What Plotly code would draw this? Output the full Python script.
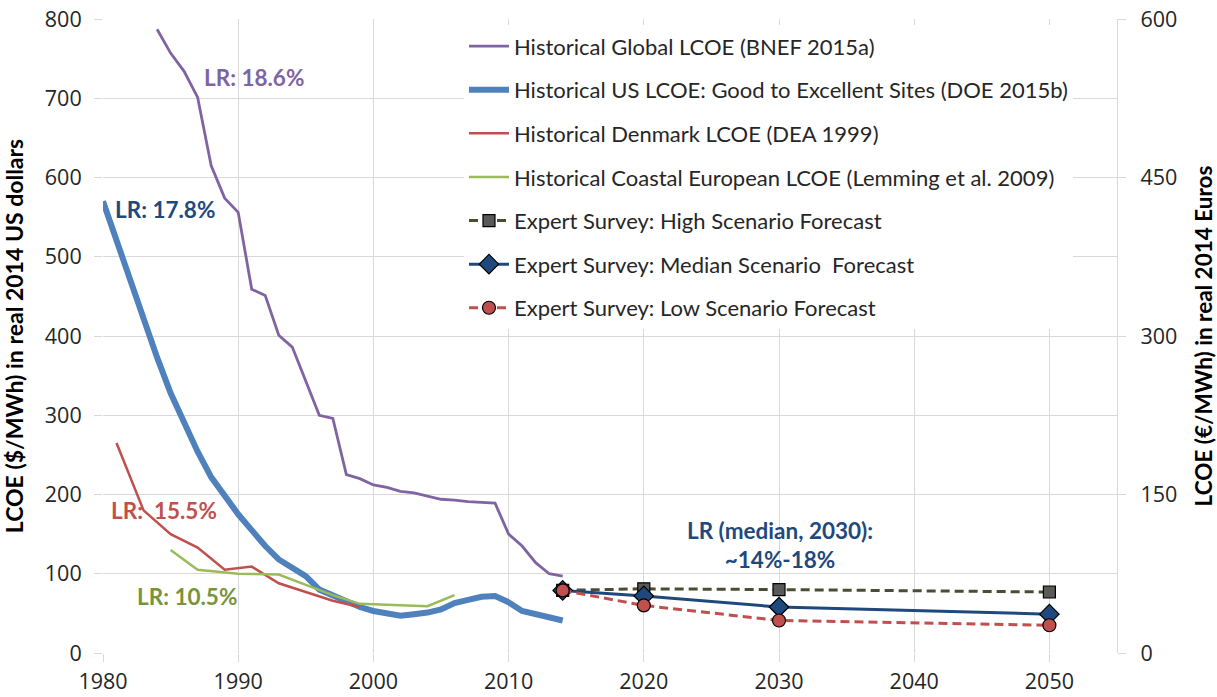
import plotly.graph_objects as go

# ---------------- data ----------------
global_years = list(range(1984, 2015))
global_lcoe = [787, 757, 734, 701, 615, 574, 556, 459, 451, 401, 386, 343, 300, 296, 225,
               220, 212, 209, 204, 202, 198, 194, 193, 191, 190, 189, 150, 135, 114, 100, 97]

us_years = list(range(1980, 2015))
us_lcoe = [570, 520, 470, 420, 373, 328, 290, 254, 222, 197, 175, 155, 135, 118, 107, 97, 80,
           72, 65, 58, 53, 50, 47, 49, 51, 55, 63, 67, 71, 72, 64, 53, 49, 45, 41]

dk_years = [1981, 1983, 1985, 1987, 1989, 1991, 1993, 1995, 1997, 1999]
dk_lcoe = [265, 180, 150, 133, 105, 109, 88, 77, 66, 58]

eu_years = [1985, 1987, 1990, 1993, 1995, 1997, 1999, 2004, 2006]
eu_lcoe = [130, 105, 100, 99, 86, 73, 62, 59, 73]

fc_years = [2014, 2020, 2030, 2050]
fc_high = [79, 81, 80, 77]
fc_median = [79, 72, 58, 49]
fc_low = [79, 60, 41, 35]

names = [
    "Historical Global LCOE (BNEF 2015a)",
    "Historical US LCOE: Good to Excellent Sites (DOE 2015b)",
    "Historical Denmark LCOE (DEA 1999)",
    "Historical Coastal European LCOE (Lemming et al. 2009)",
    "Expert Survey: High Scenario Forecast",
    "Expert Survey: Median Scenario  Forecast",
    "Expert Survey: Low Scenario Forecast",
]

lr_labels = ["LR: 18.6%", "LR: 17.8%", "LR:&nbsp; 15.5%", "LR: 10.5%",
             "LR (median, 2030):<br>~14%-18%"]
lr_x = [1991.2, 1984.6, 1984.5, 1986.2, 2030.1]
lr_y = [726, 560, 180, 71.5, 136]
lr_colors = ["#8064A2", "#1F497D", "#C0504D", "#77933C", "#1F497D"]

right_ticks = [0, 150, 300, 450, 600]

# ---------------- figure ----------------
TXT = "Lato"
fig = go.Figure()

fig.add_trace(go.Scatter(x=us_years, y=us_lcoe, name=names[1], mode="lines",
                         line=dict(color="#4F81BD", width=6), legendrank=2, legendgroup="g2"))
fig.add_trace(go.Scatter(x=dk_years, y=dk_lcoe, name=names[2], mode="lines",
                         line=dict(color="#C0504D", width=2.5), legendrank=3, legendgroup="g3"))
fig.add_trace(go.Scatter(x=eu_years, y=eu_lcoe, name=names[3], mode="lines",
                         line=dict(color="#9BBB59", width=2.5), legendrank=4, legendgroup="g4"))
fig.add_trace(go.Scatter(x=global_years, y=global_lcoe, name=names[0], mode="lines",
                         line=dict(color="#8064A2", width=2.8), legendrank=1, legendgroup="g1"))
fig.add_trace(go.Scatter(x=fc_years, y=fc_high, name=names[4], mode="lines+markers",
                         line=dict(color="#4F4B33", width=3, dash="9px,5px"),
                         marker=dict(symbol="square", size=12, color="#595959",
                                     line=dict(color="#000000", width=1.2)),
                         legendrank=5, legendgroup="g5"))
fig.add_trace(go.Scatter(x=fc_years, y=fc_median, name=names[5], mode="lines+markers",
                         line=dict(color="#1F497D", width=3),
                         marker=dict(symbol="diamond", size=15, color="#1F497D",
                                     line=dict(color="#000000", width=1.2)),
                         legendrank=6, legendgroup="g6"))
fig.add_trace(go.Scatter(x=fc_years, y=fc_low, name=names[6], mode="lines+markers",
                         line=dict(color="#C0504D", width=3, dash="9px,5px"),
                         marker=dict(symbol="circle", size=13, color="#C0504D",
                                     line=dict(color="#000000", width=1.2)),
                         legendrank=7, legendgroup="g7"))
# invisible trace to activate right axis
fig.add_trace(go.Scatter(x=[1980], y=[0], yaxis="y2", mode="markers",
                         marker=dict(opacity=0), showlegend=False, hoverinfo="skip"))

for t, xx, yy, c in zip(lr_labels, lr_x, lr_y, lr_colors):
    fig.add_annotation(x=xx, y=yy, text="<b>" + t + "</b>", showarrow=False,
                       font=dict(family=TXT, size=22.5, color=c), xanchor="center",
                       yanchor="middle")

# white box behind the legend (hides gridlines there)
W, H = 1217, 697
ML, MR, MT, MB = 103, 100, 19, 44
pw, ph = W - ML - MR, H - MT - MB
fig.add_shape(type="rect", xref="paper", yref="paper", layer="between",
              x0=(428 - ML) / pw, x1=(1113 - ML) / pw,
              y0=1 - (330 - MT) / ph, y1=1 - (22 - MT) / ph,
              fillcolor="white", line=dict(width=0))

grid = "#D9D9D9"
tickfont = dict(family="Open Sans", size=21.5, color="#262626")
fig.update_layout(
    width=W, height=H,
    margin=dict(l=ML, r=MR, t=MT, b=MB),
    plot_bgcolor="white", paper_bgcolor="white",
    showlegend=True,
    legend=dict(x=0.356, y=0.99, xanchor="left", yanchor="top",
                bgcolor="white", font=dict(family=TXT, size=22, color="#262626"),
                tracegroupgap=12, traceorder="grouped", itemwidth=40),
    xaxis=dict(range=[1980, 2055], tick0=1980, dtick=10, showgrid=True, gridcolor=grid,
               gridwidth=1.3, ticks="outside", ticklen=8, tickcolor=grid,
               tickfont=tickfont, zeroline=False, showline=False, automargin=False,
               ticklabelstandoff=1, ticklabeloverflow="allow"),
    yaxis=dict(range=[0, 800], dtick=100, showgrid=True, gridcolor=grid, gridwidth=1.3,
               ticks="outside", ticklen=8, tickcolor=grid, tickfont=tickfont,
               zeroline=False, showline=False, automargin=False, ticklabelstandoff=8,
               ticklabeloverflow="allow",
               title=dict(text="<b>LCOE ($/MWh) in real 2014 US dollars</b>",
                          font=dict(family=TXT, size=23, color="#000000"), standoff=20)),
    yaxis2=dict(range=[0, 600], tickvals=right_ticks, overlaying="y", side="right",
                showgrid=False, ticks="outside", ticklen=8, tickcolor=grid,
                showline=True, linecolor=grid, linewidth=1.3, tickfont=tickfont,
                zeroline=False, automargin=False, ticklabelstandoff=10,
                ticklabeloverflow="allow",
                title=dict(text="<b>LCOE (€/MWh) in real 2014 Euros</b>",
                           font=dict(family=TXT, size=22.5, color="#000000"), standoff=22)),
)

fig.write_html("out.html", config={"displayModeBar": False},
               post_script="document.body.style.margin='0';document.body.style.overflow='hidden';")
